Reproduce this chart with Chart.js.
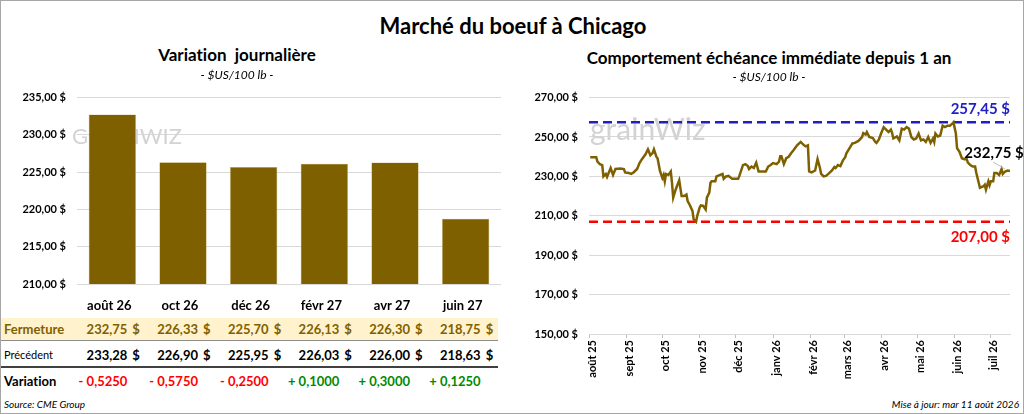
<!DOCTYPE html>
<html lang="fr">
<head>
<meta charset="utf-8">
<script src="https://cdn.jsdelivr.net/npm/chart.js@4.4.1/dist/chart.umd.min.js"></script>
<style>
  body { margin: 0; background: #fff; }
  #wrap { position: relative; width: 1024px; height: 414px; box-sizing: border-box; border: 1px solid #a6a6a6; overflow: hidden; font-family: Lato, 'Open Sans', sans-serif; font-variant-ligatures: none; color: #000; background: #fff; }
  #wrap canvas { position: absolute; }
  .t { position: absolute; white-space: nowrap; line-height: 18px; height: 18px; }
</style>
</head>
<body>
<div id="wrap">
  <canvas id="barChart" style="left:-1px;top:79px"></canvas>
  <canvas id="lineChart" style="left:511px;top:79px"></canvas>
</div>
<script>
// contrats (graphique de gauche + tableau)
const contracts = ['août 26', 'oct 26', 'déc 26', 'févr 27', 'avr 27', 'juin 27'];
const closes = [232.75, 226.33, 225.70, 226.13, 226.30, 218.75];
const previous = [233.28, 226.90, 225.95, 226.03, 226.00, 218.63];
const changes = [-0.5250, -0.5750, -0.2500, 0.1000, 0.3000, 0.1250];

// échéance immédiate sur 1 an (jours depuis le 1er août 2025)
const days = [1,6,7,9,11,12,14,15,18,20,22,26,29,30,33,35,37,40,42,44,47,49,51,53,54,56,57,59,61,62,
  63,64,66,68,69,70,72,75,77,79,81,82,84,86,87,89,90,92,93,95,97,98,100,101,102,105,106,109,111,112,
  114,116,119,124,125,128,130,132,133,135,137,139,141,143,145,147,149,151,153,156,158,159,160,162,164,166,168,170,173,176,
  178,180,182,183,185,188,190,192,193,195,197,199,202,204,205,207,209,211,213,214,217,219,221,224,227,228,230,231,233,236,
  238,239,241,243,245,247,249,251,252,253,256,258,260,262,264,266,268,270,272,274,276,278,280,282,284,286,287,288,290,292,
  294,296,298,300,302,303,305,306,308,310,312,314,315,317,319,321,322,324,325,328,329,330,332,333,334,336,337,339,341,343,
  344,346,348,350];
const prices = [239.75,239.75,237.5,236.25,235.75,230,231.25,229.75,234.25,230.75,
  233.75,234,233.75,232,231.75,231.25,232,233.75,236.75,238.75,
  241.25,243.75,240.75,242,243.75,240,239.25,232.75,229.25,230.75,
  227.5,231.25,230.75,232.5,226.75,219.25,223.25,228,220,220,
  220.75,217.5,215.25,212.5,208.25,207,210,214.25,215.25,215,
  213.25,219.25,221.75,226.75,227.5,227.5,230,230.75,231.25,228.75,
  230,230.25,228.75,228.75,230.25,235.75,236.25,235.25,233.75,235,
  234.25,237,232.5,232.5,232.5,232.5,235,235.75,236.75,236.25,
  237.5,240.25,240.25,236.25,239.25,240,241.75,243.25,245.75,247.5,
  246.25,245.25,245.75,232.5,232,233,238.75,234.25,231.25,230,
  230.25,231.25,233,234.75,234.25,235.75,235.25,238,239.75,241.75,
  244.75,246.75,247,248,250,252,251.25,252.5,250,249.5,
  247.5,247,248.75,252,255,253.75,252.5,253.75,252,249.25,
  250.25,248.25,254.25,253.75,255,254.25,250,248.75,249.25,251.75,
  248.25,248.75,247.5,250,247,249.25,247.5,251.75,250.25,250.75,
  255.75,255,255.75,255.75,256.75,257.45,251.75,244.25,242.5,239.25,
  238.75,238.75,237,235.75,235,235,231.75,226.75,224.25,225,
  225.75,223.25,227.5,225.5,227.5,227.5,231.75,231.75,230.75,233.75,
  231.25,232.5,233,232.75];
const monthStarts = [0, 31, 61, 92, 122, 153, 184, 212, 243, 273, 304, 334];
const monthLabels = ['août 25', 'sept 25', 'oct 25', 'nov 25', 'déc 25', 'janv 26', 'févr 26', 'mars 26', 'avr 26', 'mai 26', 'juin 26', 'juil 26'];
const highVal = 257.45;
const lowVal = 207.00;
const lastVal = 232.75;

const gold = '#7F6000';
const highColor = '#1F1FC4';
const lowColor = '#FF0000';
const fontFamily = "Lato, 'Open Sans', sans-serif";
const wrap = document.getElementById('wrap');

Chart.defaults.font.family = fontFamily;
Chart.defaults.color = '#000';

function fmt(v) {
    return v.toFixed(2).replace('.', ',') + ' $';
}

function addText(txt, x, y, align, style) {
    const d = document.createElement('div');
    d.className = 't';
    d.textContent = txt;
    if (align === 'center') {
        d.style.left = (x - 200) + 'px';
        d.style.width = '400px';
        d.style.textAlign = 'center';
    } else if (align === 'right') {
        d.style.left = (x - 400) + 'px';
        d.style.width = '400px';
        d.style.textAlign = 'right';
    } else {
        d.style.left = x + 'px';
    }
    d.style.top = (y - 9) + 'px';
    Object.assign(d.style, style || {});
    wrap.appendChild(d);
    return d;
}

function addBox(x, y, w, h, bg) {
    const d = document.createElement('div');
    Object.assign(d.style, { position: 'absolute', left: x + 'px', top: y + 'px', width: w + 'px', height: h + 'px', background: bg });
    wrap.appendChild(d);
}

const watermark = {
    id: 'watermark',
    beforeDatasetsDraw(chart, args, opts) {
        const ctx = chart.ctx;
        ctx.save();
        ctx.fillStyle = '#d3d3d3';
        ctx.font = opts.size + 'px ' + fontFamily;
        ctx.textBaseline = 'alphabetic';
        ctx.fillText(opts.text, opts.x, opts.y);
        ctx.restore();
    }
};

// --- titres
addText('Marché du boeuf à Chicago', 512, 25, 'center', { fontSize: '22px', fontWeight: 'bold' });
addText('Variation  journalière', 236, 54, 'center', { fontSize: '17px', fontWeight: 'bold', whiteSpace: 'pre' });
addText('- $US/100 lb -', 236, 74, 'center', { fontSize: '12px', fontStyle: 'italic' });
addText('Comportement échéance immédiate depuis 1 an', 768, 57, 'center', { fontSize: '17px', fontWeight: 'bold' });
addText('- $US/100 lb -', 768, 76, 'center', { fontSize: '12px', fontStyle: 'italic' });

// --- graphique de gauche
const barCanvas = document.getElementById('barChart');
barCanvas.width = 510;
barCanvas.height = 234;
const barChart = new Chart(barCanvas.getContext('2d'), {
    type: 'bar',
    data: {
        labels: contracts,
        datasets: [{
            data: closes,
            backgroundColor: gold,
            borderColor: '#c8b26a',
            borderWidth: 0.6,
            categoryPercentage: 1,
            barPercentage: 0.67
        }]
    },
    options: {
        responsive: false,
        animation: false,
        layout: { padding: { top: 8, right: 9 } },
        plugins: {
            legend: { display: false },
            tooltip: { enabled: false },
            watermark: { text: 'GRAINWIZ', x: 72, y: 64, size: 22 }
        },
        scales: {
            y: {
                min: 210,
                max: 235,
                afterFit(s) { s.width = 77; },
                ticks: { stepSize: 5, padding: 11, callback: v => fmt(v), font: { size: 11, weight: 'bold' } },
                grid: { color: '#d9d9d9', drawTicks: false },
                border: { display: false }
            },
            x: {
                afterFit(s) { s.height = 30; },
                ticks: { padding: 14, labelOffset: -3, font: { size: 13, weight: 'bold' } },
                grid: { display: false, drawTicks: false },
                border: { display: false }
            }
        }
    },
    plugins: [watermark]
});

// --- tableau sous le graphique de gauche
addBox(0, 317, 497, 22, '#FFF2CC');
addBox(0, 339, 497, 1, '#8c8c8c');
addBox(0, 365, 497, 2, '#404040');
addText('Fermeture', 3, 328, 'left', { fontSize: '13px', fontWeight: 'bold', color: gold });
addText('Précédent', 3, 354, 'left', { fontSize: '11px' });
addText('Variation', 3, 380, 'left', { fontSize: '13px', fontWeight: 'bold' });
contracts.forEach((c, i) => {
    const cx = barChart.scales.x.getPixelForValue(i) - 2;
    addText(closes[i].toFixed(2).replace('.', ','), cx + 16, 328, 'right', { fontSize: '13px', fontWeight: 'bold', color: gold });
    addText('$', cx + 21, 328, 'left', { fontSize: '13px', fontWeight: 'bold', color: gold });
    addText(previous[i].toFixed(2).replace('.', ','), cx + 16, 354, 'right', { fontSize: '13px', fontWeight: 'bold' });
    addText('$', cx + 21, 354, 'left', { fontSize: '13px', fontWeight: 'bold' });
    const ch = changes[i];
    const txt = (ch < 0 ? '- ' : '+ ') + Math.abs(ch).toFixed(4).replace('.', ',');
    addText(txt, cx + 16, 380, 'right', { fontSize: '13px', fontWeight: 'bold', color: ch < 0 ? '#FF0000' : '#008A00' });
});
addText('Source: CME Group', 3, 403, 'left', { fontSize: '10px', fontStyle: 'italic' });
addText('Mise à jour: mar 11 août 2026', 1018, 403, 'right', { fontSize: '10px', fontStyle: 'italic' });

// --- graphique de droite
const refLabels = {
    id: 'refLabels',
    afterDatasetsDraw(chart) {
        const { ctx, chartArea, scales: { x, y } } = chart;
        ctx.save();
        ctx.font = 'bold 15px ' + fontFamily;
        ctx.textBaseline = 'middle';
        ctx.textAlign = 'right';
        ctx.fillStyle = highColor;
        ctx.fillText(fmt(highVal), chartArea.right, y.getPixelForValue(highVal) - 13);
        ctx.fillStyle = lowColor;
        ctx.fillText(fmt(lowVal), chartArea.right, y.getPixelForValue(lowVal) + 15);
        const lx = x.getPixelForValue(days[days.length - 1]);
        const ly = y.getPixelForValue(lastVal);
        ctx.strokeStyle = '#bfbfbf';
        ctx.lineWidth = 1;
        ctx.beginPath();
        ctx.moveTo(lx - 17, ly - 9);
        ctx.lineTo(lx - 5, ly - 2);
        ctx.stroke();
        ctx.fillStyle = '#000';
        ctx.textAlign = 'center';
        ctx.fillText(fmt(lastVal), lx - 16, ly - 18);
        ctx.restore();
    }
};

const lineCanvas = document.getElementById('lineChart');
lineCanvas.width = 512;
lineCanvas.height = 302;
const xMin = 0;
const xMax = 350;
new Chart(lineCanvas.getContext('2d'), {
    type: 'line',
    data: {
        datasets: [{
            data: days.map((d, i) => ({ x: d, y: prices[i] })),
            borderColor: gold,
            borderWidth: 2.5,
            pointRadius: 0,
            tension: 0,
            order: 0
        }, {
            data: [{ x: xMin, y: highVal }, { x: xMax, y: highVal }],
            borderColor: highColor,
            borderWidth: 2.5,
            borderDash: [9, 5],
            pointRadius: 0,
            order: 1
        }, {
            data: [{ x: xMin, y: lowVal }, { x: xMax, y: lowVal }],
            borderColor: lowColor,
            borderWidth: 2.5,
            borderDash: [9, 5],
            pointRadius: 0,
            order: 1
        }]
    },
    options: {
        responsive: false,
        animation: false,
        layout: { padding: { top: 8, right: 14 } },
        plugins: {
            legend: { display: false },
            tooltip: { enabled: false },
            watermark: { text: 'grainWiz', x: 78, y: 60, size: 30 }
        },
        scales: {
            x: {
                type: 'linear',
                min: xMin,
                max: xMax,
                afterBuildTicks(s) { s.ticks = monthStarts.map(v => ({ value: v })); },
                afterFit(s) { s.height = 48; },
                ticks: {
                    autoSkip: false,
                    maxRotation: 90,
                    minRotation: 90,
                    padding: 2,
                    labelOffset: 3,
                    callback: (v, i) => monthLabels[i],
                    font: { size: 11, weight: 'bold' }
                },
                grid: { drawOnChartArea: false, tickLength: 4, color: '#bfbfbf' },
                border: { color: '#d9d9d9' }
            },
            y: {
                min: 150,
                max: 270,
                afterFit(s) { s.width = 77; },
                ticks: { stepSize: 20, padding: 11, callback: v => fmt(v), font: { size: 11, weight: 'bold' } },
                grid: { color: '#d9d9d9', drawTicks: false },
                border: { display: false }
            }
        }
    },
    plugins: [watermark, refLabels]
});
</script>
</body>
</html>
